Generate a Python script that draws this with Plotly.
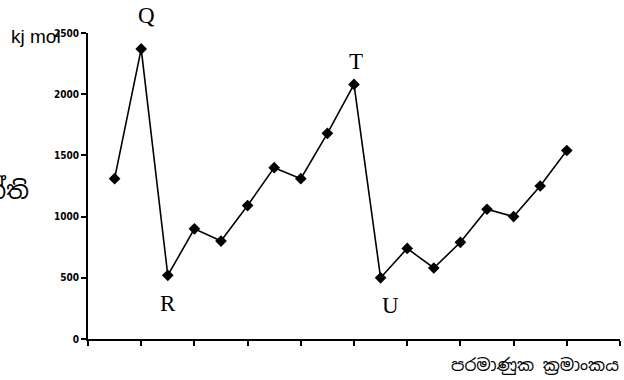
import plotly.graph_objects as go

atomic_numbers = list(range(1, 19))
energies = [1310, 2370, 520, 900, 800, 1090, 1400, 1310, 1680, 2080,
            500, 740, 580, 790, 1060, 1000, 1250, 1540]
y_ticks = [0, 500, 1000, 1500, 2000, 2500]
x_ticks = list(range(0, 21, 2))
point_labels = {2: "Q", 3: "R", 10: "T", 11: "U"}
y_unit = "kj mol"
x_title = "පරමාණුක ක්‍රමාංකය"
y_title = "ශක්ති"

L, R, T, B = 88, 4, 33, 41
W, H = 624, 380
pw = W - L - R
ph = H - T - B

fig = go.Figure()
fig.add_trace(go.Scatter(
    x=atomic_numbers, y=energies, mode="lines+markers",
    line=dict(color="black", width=1.6),
    marker=dict(symbol="diamond", size=9, color="black"),
    showlegend=False, hoverinfo="skip",
))

# point letters
offsets = {"Q": 33, "T": 23, "R": -28, "U": -28}
xshift = {"Q": 5, "T": 2, "R": 0, "U": 10}
for n, lab in point_labels.items():
    fig.add_annotation(
        x=n, y=energies[n - 1], text=lab, showarrow=False,
        xshift=xshift[lab], yshift=offsets[lab],
        font=dict(family="Liberation Serif, Times New Roman, serif", size=23, color="black"),
    )

fig.add_annotation(
    xref="paper", yref="paper", x=(63 - L) / pw, y=(H - B - 37) / ph,
    text=y_unit, showarrow=False, xanchor="right", yanchor="middle",
    font=dict(family="Liberation Sans, Arial, sans-serif", size=19, color="black"),
)
fig.add_annotation(
    xref="paper", yref="paper", x=(31 - L) / pw, y=(H - B - 190) / ph,
    text=y_title, showarrow=False, xanchor="right", yanchor="middle",
    font=dict(family="Noto Sans Sinhala, Noto Sans, sans-serif", size=24, color="black"),
)
fig.add_annotation(
    xref="paper", yref="paper", x=(621 - L) / pw, y=-(365 - (H - B)) / ph,
    text=x_title, showarrow=False, xanchor="right", yanchor="middle",
    font=dict(family="Noto Sans Sinhala, Noto Sans, sans-serif", size=17, color="black"),
)

fig.update_xaxes(
    range=[0, 20], tickvals=x_ticks, showticklabels=False,
    ticks="outside", ticklen=5, tickwidth=1.5, tickcolor="black",
    showline=True, linecolor="black", linewidth=2, showgrid=False, zeroline=False,
)
fig.update_yaxes(
    range=[0, 2500], tickvals=y_ticks, ticks="outside", ticklen=5, tickwidth=1.5,
    tickcolor="black", showline=True, linecolor="black", linewidth=2,
    showgrid=False, zeroline=False,
    tickfont=dict(family="Liberation Sans Narrow, Arial Narrow, DejaVu Sans Condensed, sans-serif",
                  size=10, color="black", weight="bold"),
)
fig.update_layout(
    width=W, height=H, margin=dict(l=L, r=R, t=T, b=B),
    paper_bgcolor="white", plot_bgcolor="white",
)
fig.write_html("out.html", config={"displayModeBar": False},
               post_script="document.body.style.margin='0';")
